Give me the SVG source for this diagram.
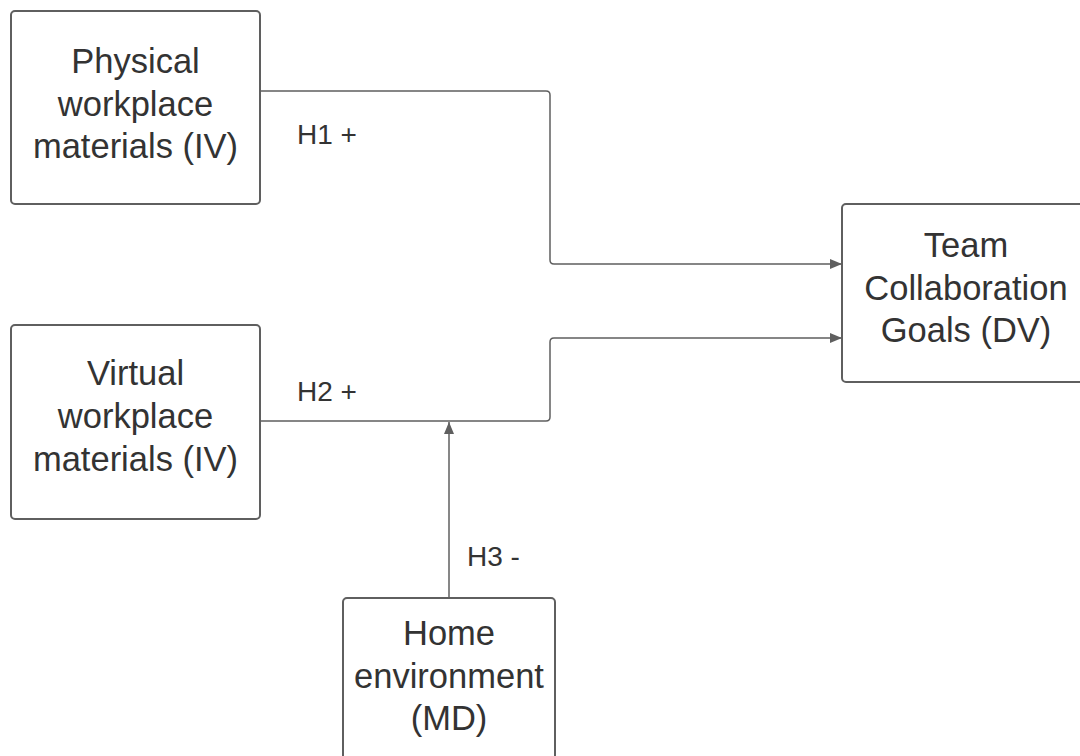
<svg xmlns="http://www.w3.org/2000/svg" width="1080" height="756" viewBox="0 0 1080 756">
  <style>
    .box { fill: #ffffff; stroke: #5f5f5f; stroke-width: 2; }
    .lbl { font-family: "Liberation Sans", Arial, sans-serif; font-size: 34.5px; fill: #333333; text-anchor: middle; }
    .edge-lbl { font-family: "Liberation Sans", Arial, sans-serif; font-size: 28px; fill: #333333; }
    .wire { fill: none; stroke: #5f5f5f; stroke-width: 1.5; }
  </style>
  <defs>
    <marker id="arrow" viewBox="0 0 12 10" refX="12" refY="5" markerWidth="12" markerHeight="10" markerUnits="userSpaceOnUse" orient="auto">
      <path d="M0,0 L12,5 L0,10 Z" fill="#5f5f5f"/>
    </marker>
  </defs>
  <rect width="1080" height="756" fill="#ffffff"/>

  <g id="connectors">
    <path class="wire" d="M260,91 H546 Q550,91 550,95 V260 Q550,264 554,264 H842" marker-end="url(#arrow)"/>
    <path class="wire" d="M260,421 H546 Q550,421 550,417 V342 Q550,338 554,338 H842" marker-end="url(#arrow)"/>
    <path class="wire" d="M449,598 V422" marker-end="url(#arrow)"/>
    <text class="edge-lbl" x="297" y="144">H1 +</text>
    <text class="edge-lbl" x="297" y="401">H2 +</text>
    <text class="edge-lbl" x="467" y="566">H3 -</text>
  </g>

  <g id="physical">
    <rect class="box" x="11" y="11" width="249" height="193" rx="4"/>
    <text class="lbl" x="135.5" y="73">Physical</text>
    <text class="lbl" x="135.5" y="116">workplace</text>
    <text class="lbl" x="135.5" y="158">materials (IV)</text>
  </g>

  <g id="virtual">
    <rect class="box" x="11" y="325" width="249" height="194" rx="4"/>
    <text class="lbl" x="135.5" y="385">Virtual</text>
    <text class="lbl" x="135.5" y="428">workplace</text>
    <text class="lbl" x="135.5" y="471">materials (IV)</text>
  </g>

  <g id="team">
    <rect class="box" x="842" y="204" width="244" height="178" rx="4"/>
    <text class="lbl" x="966" y="257">Team</text>
    <text class="lbl" x="966" y="300">Collaboration</text>
    <text class="lbl" x="966" y="342">Goals (DV)</text>
  </g>

  <g id="home">
    <rect class="box" x="343" y="598" width="212" height="170" rx="4"/>
    <text class="lbl" x="449" y="645">Home</text>
    <text class="lbl" x="449" y="688">environment</text>
    <text class="lbl" x="449" y="730">(MD)</text>
  </g>
</svg>
